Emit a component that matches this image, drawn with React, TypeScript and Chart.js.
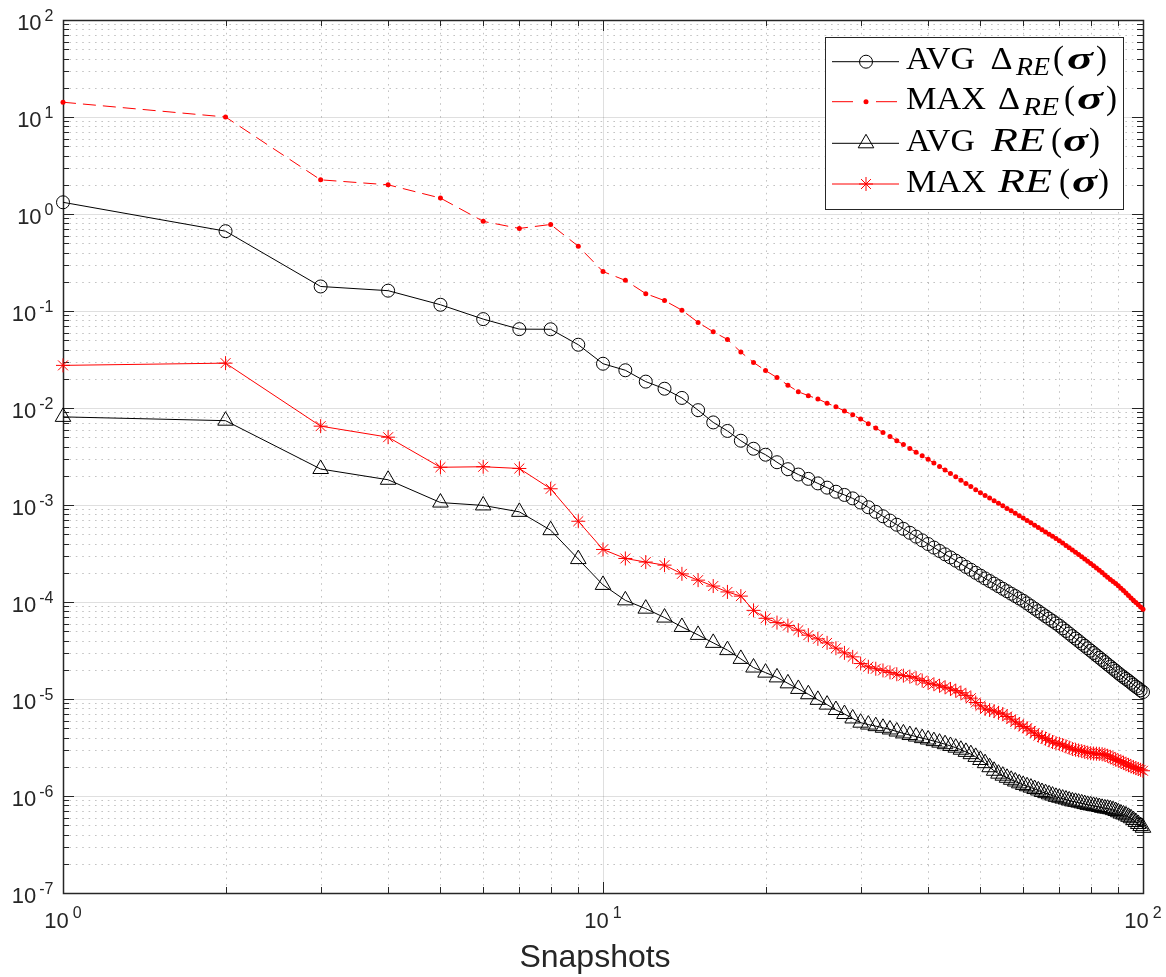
import React, { useEffect, useRef } from 'react';
import { Chart, registerables } from 'chart.js';

Chart.register(...registerables);

// ---------------- data ----------------
const snapshots = Array.from({ length: 100 }, (_, i) => i + 1);

const avgDelta = [
  1.32, 0.665, 0.179, 0.162, 0.116, 0.0825, 0.065, 0.0648, 0.0449, 0.0286,
  0.0245, 0.0187, 0.0158, 0.0127, 0.0095, 0.0071, 0.0058, 0.0046, 0.0038, 0.0033,
  0.00276, 0.00234, 0.00206, 0.00186, 0.00167, 0.00151, 0.00137, 0.00127, 0.00117, 0.00106,
  0.000948, 0.00085, 0.000765, 0.000691, 0.000626, 0.000568, 0.000517, 0.000472, 0.000432, 0.000396,
  0.000364, 0.000336, 0.00031, 0.000288, 0.000267, 0.000248, 0.00023, 0.000215, 0.0002, 0.000187,
  0.000175, 0.0001645, 0.0001546, 0.0001454, 0.0001369, 0.0001291, 0.0001218, 0.0001151, 0.0001088, 0.000103,
  0.0000967, 0.0000908, 0.0000854, 0.0000804, 0.0000758, 0.0000714, 0.0000674, 0.0000637, 0.0000602, 0.000057,
  0.0000535, 0.0000503, 0.0000473, 0.0000445, 0.000042, 0.0000396, 0.0000373, 0.0000353, 0.0000333, 0.0000315,
  0.0000298, 0.0000282, 0.0000267, 0.0000253, 0.000024, 0.0000227, 0.0000216, 0.0000205, 0.0000195, 0.0000185,
  0.0000176, 0.0000168, 0.0000161, 0.0000154, 0.0000147, 0.000014, 0.0000134, 0.0000129, 0.0000123, 0.0000118,
];

const maxDelta = [
  14.2, 10.0, 2.25, 2.0, 1.46, 0.84, 0.71, 0.78, 0.465, 0.255,
  0.207, 0.151, 0.128, 0.102, 0.0763, 0.0611, 0.0509, 0.0377, 0.0295, 0.0243,
  0.0206, 0.0172, 0.0147, 0.0134, 0.0124, 0.0112, 0.0103, 0.0093, 0.0085, 0.0077,
  0.0069, 0.00621, 0.0056, 0.00507, 0.0046, 0.0042, 0.00383, 0.0035, 0.00321, 0.00296,
  0.00271, 0.00249, 0.00229, 0.00211, 0.00195, 0.0018, 0.00167, 0.00155, 0.00144, 0.00134,
  0.001256, 0.001178, 0.001106, 0.00104, 0.00098, 0.000923, 0.000871, 0.000823, 0.000777, 0.000735,
  0.000694, 0.000655, 0.00062, 0.000587, 0.000556, 0.000527, 0.0005, 0.000475, 0.000451, 0.000429,
  0.000405, 0.000383, 0.000362, 0.000343, 0.000325, 0.000308, 0.000292, 0.000277, 0.000263, 0.00025,
  0.000236, 0.000224, 0.000212, 0.000201, 0.00019, 0.00018, 0.000171, 0.000163, 0.000155, 0.000147,
  0.000139, 0.000131, 0.000124, 0.000117, 0.00011, 0.000104, 0.0000988, 0.0000935, 0.0000886, 0.000084,
];

const avgRE = [
  0.0081, 0.0074, 0.00235, 0.00182, 0.00106, 0.00099, 0.00085, 0.00055, 0.000277, 0.00015,
  0.000104, 0.0000854, 0.0000691, 0.0000553, 0.0000458, 0.0000379, 0.0000319, 0.0000259, 0.0000211, 0.0000187,
  0.0000167, 0.0000145, 0.0000127, 0.0000112, 0.0000098, 0.00000875, 0.0000077, 0.000007, 0.0000063, 0.0000057,
  0.00000545, 0.00000525, 0.00000505, 0.00000485, 0.00000462, 0.00000442, 0.00000425, 0.0000041, 0.00000395, 0.00000382,
  0.00000368, 0.00000355, 0.00000342, 0.00000328, 0.00000315, 0.000003, 0.00000285, 0.0000027, 0.00000253, 0.00000235,
  0.00000218, 0.00000198, 0.00000182, 0.0000017, 0.00000162, 0.00000154, 0.00000147, 0.00000141, 0.00000135, 0.0000013,
  0.00000126, 0.00000122, 0.00000118, 0.00000114, 0.0000011, 0.00000107, 0.00000104, 0.00000101, 0.00000098, 0.00000096,
  0.00000094, 0.00000092, 0.0000009, 0.00000088, 0.00000087, 0.000000855, 0.00000084, 0.000000825, 0.00000081, 0.0000008,
  0.00000079, 0.00000078, 0.00000077, 0.000000755, 0.000000745, 0.00000074, 0.00000073, 0.000000715, 0.0000007, 0.00000068,
  0.00000066, 0.000000645, 0.00000063, 0.00000061, 0.00000059, 0.000000565, 0.00000054, 0.000000515, 0.00000049, 0.00000047,
];

const maxRE = [
  0.0275, 0.029, 0.0065, 0.005, 0.00245, 0.00248, 0.00238, 0.00147, 0.00068, 0.000348,
  0.000281, 0.000258, 0.00024, 0.000195, 0.000168, 0.000146, 0.000127, 0.000115, 0.000082, 0.0000679,
  0.0000613, 0.0000571, 0.0000512, 0.0000455, 0.0000417, 0.0000379, 0.0000334, 0.0000299, 0.0000272, 0.0000232,
  0.0000215, 0.0000205, 0.0000197, 0.0000188, 0.000018, 0.0000174, 0.000017, 0.0000164, 0.0000155, 0.0000146,
  0.0000142, 0.0000137, 0.0000132, 0.0000127, 0.0000122, 0.0000116, 0.0000109, 0.0000102, 0.0000092, 0.0000085,
  0.0000079, 0.0000077, 0.0000075, 0.0000072, 0.000007, 0.0000066, 0.0000062, 0.0000058, 0.0000055, 0.0000052,
  0.000005, 0.0000047, 0.00000445, 0.0000042, 0.00000405, 0.0000039, 0.00000375, 0.0000036, 0.0000035, 0.00000345,
  0.00000335, 0.00000325, 0.00000315, 0.00000305, 0.000003, 0.00000295, 0.0000029, 0.00000285, 0.0000028, 0.00000276,
  0.00000274, 0.00000273, 0.00000272, 0.0000027, 0.00000266, 0.0000026, 0.00000253, 0.00000245, 0.00000238, 0.00000232,
  0.00000226, 0.0000022, 0.00000214, 0.00000208, 0.00000202, 0.00000198, 0.00000194, 0.0000019, 0.00000186, 0.00000182,
];

// ---------------- ticks & labels ----------------
const xMajorTicks = [1, 10, 100];
const xTickExponents = ['0', '1', '2'];
const yMajorTicks = [1e-7, 1e-6, 1e-5, 1e-4, 1e-3, 1e-2, 1e-1, 1, 10, 100];
const yTickExponents = ['-7', '-6', '-5', '-4', '-3', '-2', '-1', '0', '1', '2'];
const minorMultipliers = [2, 3, 4, 5, 6, 7, 8, 9];
const xAxisTitle = 'Snapshots';

const legendStats = ['AVG', 'MAX', 'AVG', 'MAX'];
const legendIsDelta = [true, true, false, false];

// ---------------- styles ----------------
const TICK_FONT = '"Liberation Sans", Arial, sans-serif';
const SERIF = '"Liberation Serif", "Times New Roman", serif';
const AXIS_COLOR = '#262626';

// legend piece layout per row (x positions / target widths)
const LEGEND_LAYOUT = [
  { stat: [906, 69], sym: [990.5, 22], re: [1016, 34], lp: 1053, sigma: [1067, 26], rp: 1096 },
  { stat: [906, 80], sym: [998, 22], re: [1023, 36], lp: 1064, sigma: [1077, 26], rp: 1106 },
  { stat: [906, 69], re: [991, 54], lp: 1051, sigma: [1063, 25], rp: 1089 },
  { stat: [906, 80], re: [998, 54], lp: 1059, sigma: [1072, 25], rp: 1098 },
];

function minorValues(majors: number[]) {
  const out: number[] = [];
  for (let i = 0; i < majors.length - 1; i++) {
    for (const m of minorMultipliers) out.push(majors[i] * m);
  }
  return out;
}

function drawMarker(ctx: CanvasRenderingContext2D, kind: string, x: number, y: number) {
  ctx.save();
  ctx.setLineDash([]);
  ctx.lineWidth = 1;
  if (kind === 'circle') {
    ctx.strokeStyle = '#000';
    ctx.beginPath();
    ctx.arc(x, y, 6.5, 0, Math.PI * 2);
    ctx.stroke();
  } else if (kind === 'dot') {
    ctx.fillStyle = '#ff0000';
    ctx.beginPath();
    ctx.arc(x, y, 2.5, 0, Math.PI * 2);
    ctx.fill();
  } else if (kind === 'triangle') {
    const r = 9;
    ctx.strokeStyle = '#000';
    ctx.beginPath();
    ctx.moveTo(x, y - r);
    ctx.lineTo(x + r * Math.sin((2 * Math.PI) / 3), y - r * Math.cos((2 * Math.PI) / 3));
    ctx.lineTo(x + r * Math.sin((4 * Math.PI) / 3), y - r * Math.cos((4 * Math.PI) / 3));
    ctx.closePath();
    ctx.stroke();
  } else if (kind === 'star') {
    const r = 7;
    ctx.strokeStyle = '#ff0000';
    ctx.beginPath();
    for (let k = 0; k < 4; k++) {
      const a = (k * Math.PI) / 4;
      ctx.moveTo(x - r * Math.cos(a), y - r * Math.sin(a));
      ctx.lineTo(x + r * Math.cos(a), y + r * Math.sin(a));
    }
    ctx.stroke();
  }
  ctx.restore();
}

function fitText(ctx: CanvasRenderingContext2D, t: string, font: string, x: number, y: number, w?: number) {
  ctx.font = font;
  const m = ctx.measureText(t).width;
  ctx.save();
  ctx.translate(x, y);
  if (w) ctx.scale(w / m, 1);
  ctx.fillText(t, 0, 0);
  ctx.restore();
}

const axesPlugin = {
  id: 'matlabAxes',
  beforeDatasetsDraw(chart: any) {
    const { ctx, chartArea: a, scales } = chart;
    const xs = scales.x;
    const ys = scales.y;
    ctx.save();
    // minor grid (dotted)
    ctx.strokeStyle = 'rgba(38,38,38,0.28)';
    ctx.lineWidth = 1;
    ctx.setLineDash([1.6, 4.8]);
    for (const v of minorValues(xMajorTicks)) {
      const px = Math.round(xs.getPixelForValue(v)) + 0.5;
      ctx.beginPath();
      ctx.moveTo(px, a.top);
      ctx.lineTo(px, a.bottom);
      ctx.stroke();
    }
    for (const v of minorValues(yMajorTicks)) {
      const py = Math.round(ys.getPixelForValue(v)) + 0.5;
      ctx.beginPath();
      ctx.moveTo(a.left, py);
      ctx.lineTo(a.right, py);
      ctx.stroke();
    }
    // major grid (solid)
    ctx.setLineDash([]);
    ctx.strokeStyle = 'rgba(38,38,38,0.15)';
    for (const v of xMajorTicks) {
      const px = Math.round(xs.getPixelForValue(v)) + 0.5;
      ctx.beginPath();
      ctx.moveTo(px, a.top);
      ctx.lineTo(px, a.bottom);
      ctx.stroke();
    }
    for (const v of yMajorTicks) {
      const py = Math.round(ys.getPixelForValue(v)) + 0.5;
      ctx.beginPath();
      ctx.moveTo(a.left, py);
      ctx.lineTo(a.right, py);
      ctx.stroke();
    }
    // box + ticks
    ctx.strokeStyle = AXIS_COLOR;
    const majLen = 11;
    const minLen = 6;
    const tickX = (v: number, len: number) => {
      const px = Math.round(xs.getPixelForValue(v)) + 0.5;
      ctx.beginPath();
      ctx.moveTo(px, a.bottom);
      ctx.lineTo(px, a.bottom - len);
      ctx.moveTo(px, a.top);
      ctx.lineTo(px, a.top + len);
      ctx.stroke();
    };
    const tickY = (v: number, len: number) => {
      const py = Math.round(ys.getPixelForValue(v)) + 0.5;
      ctx.beginPath();
      ctx.moveTo(a.left, py);
      ctx.lineTo(a.left + len, py);
      ctx.moveTo(a.right, py);
      ctx.lineTo(a.right - len, py);
      ctx.stroke();
    };
    ctx.lineWidth = 1;
    xMajorTicks.forEach((v) => tickX(v, majLen));
    minorValues(xMajorTicks).forEach((v) => tickX(v, minLen));
    yMajorTicks.forEach((v) => tickY(v, majLen));
    minorValues(yMajorTicks).forEach((v) => tickY(v, minLen));
    ctx.lineWidth = 1.5;
    ctx.strokeRect(Math.round(a.left) + 0.5, Math.round(a.top) + 0.5, Math.round(a.right - a.left), Math.round(a.bottom - a.top));

    // tick labels
    ctx.fillStyle = AXIS_COLOR;
    ctx.textBaseline = 'alphabetic';
    const baseFont = `22px ${TICK_FONT}`;
    const expFont = `16px ${TICK_FONT}`;
    yMajorTicks.forEach((v, i) => {
      const py = ys.getPixelForValue(v);
      const exp = yTickExponents[i];
      ctx.font = expFont;
      const we = ctx.measureText(exp).width;
      ctx.textAlign = 'right';
      ctx.fillText(exp, a.left - 9.5, py + 0.5);
      ctx.font = baseFont;
      ctx.fillText('10', a.left - 9.5 - we - 3, py + 10);
    });
    xMajorTicks.forEach((v, i) => {
      const px = xs.getPixelForValue(v);
      const exp = xTickExponents[i];
      ctx.font = baseFont;
      const wb = ctx.measureText('10').width;
      ctx.font = expFont;
      const we = ctx.measureText(exp).width;
      const total = wb + 4 + we;
      const x0 = px - total / 2;
      ctx.textAlign = 'left';
      ctx.font = baseFont;
      ctx.fillText('10', x0, a.bottom + 35);
      ctx.font = expFont;
      ctx.fillText(exp, x0 + wb + 4, a.bottom + 25);
    });
    // axis title
    ctx.font = `32px ${TICK_FONT}`;
    ctx.textAlign = 'center';
    ctx.fillText(xAxisTitle, 595, a.bottom + 74);
    ctx.restore();
  },
  afterDatasetsDraw(chart: any) {
    const { ctx } = chart;
    ctx.save();
    // legend box
    const bx = 825.5, by = 37.5, bw = 298, bh = 172;
    ctx.fillStyle = '#ffffff';
    ctx.fillRect(bx, by, bw, bh);
    ctx.strokeStyle = AXIS_COLOR;
    ctx.lineWidth = 1;
    ctx.strokeRect(bx, by, bw, bh);
    const rows = [61.7, 101.7, 143.3, 184];
    const ds = chart.data.datasets;
    rows.forEach((ry, i) => {
      const d = ds[i];
      ctx.strokeStyle = d.borderColor;
      ctx.lineWidth = 1;
      ctx.setLineDash(i === 1 ? [21, 23] : []);
      ctx.beginPath();
      ctx.moveTo(832, ry);
      ctx.lineTo(899, ry);
      ctx.stroke();
      ctx.setLineDash([]);
      drawMarker(ctx, d.legendMarker, 866, ry);
      // text
      ctx.fillStyle = '#000';
      ctx.textAlign = 'left';
      ctx.textBaseline = 'alphabetic';
      const L: any = LEGEND_LAYOUT[i];
      const yb = ry + 7.5;
      fitText(ctx, legendStats[i], `32px ${SERIF}`, L.stat[0], yb, L.stat[1]);
      if (legendIsDelta[i]) {
        fitText(ctx, 'Δ', `32px ${SERIF}`, L.sym[0], yb, L.sym[1]);
        fitText(ctx, 'RE', `italic 25px ${SERIF}`, L.re[0], yb + 6, L.re[1]);
      } else {
        fitText(ctx, 'RE', `italic 33px ${SERIF}`, L.re[0], yb, L.re[1]);
      }
      fitText(ctx, '(', `33px ${SERIF}`, L.lp, yb);
      fitText(ctx, 'σ', `bold italic 32px ${SERIF}`, L.sigma[0], yb, L.sigma[1]);
      fitText(ctx, ')', `33px ${SERIF}`, L.rp, yb);
    });
    ctx.restore();
  },
};

export default function App() {
  const canvasRef = useRef<HTMLCanvasElement | null>(null);

  useEffect(() => {
    const canvas = canvasRef.current;
    if (!canvas) return;
    const toPoints = (vals: number[]) => snapshots.map((s, i) => ({ x: s, y: vals[i] }));
    const chart = new Chart(canvas, {
      type: 'line',
      data: {
        datasets: [
          {
            label: 'AVG Δ_RE(σ)',
            data: toPoints(avgDelta),
            borderColor: '#000000',
            borderWidth: 1,
            pointStyle: 'circle',
            pointRadius: 6.5,
            pointBorderWidth: 1,
            pointBorderColor: '#000000',
            pointBackgroundColor: 'rgba(0,0,0,0)',
            tension: 0,
            clip: false,
            legendMarker: 'circle',
          } as any,
          {
            label: 'MAX Δ_RE(σ)',
            data: toPoints(maxDelta),
            borderColor: '#ff0000',
            borderWidth: 1,
            borderDash: [13, 7],
            pointStyle: 'circle',
            pointRadius: 2.5,
            pointBorderWidth: 0,
            pointBackgroundColor: '#ff0000',
            tension: 0,
            clip: false,
            legendMarker: 'dot',
          } as any,
          {
            label: 'AVG RE(σ)',
            data: toPoints(avgRE),
            borderColor: '#000000',
            borderWidth: 1,
            pointStyle: 'triangle',
            pointRadius: 9,
            pointBorderWidth: 1,
            pointBorderColor: '#000000',
            pointBackgroundColor: 'rgba(0,0,0,0)',
            tension: 0,
            clip: false,
            legendMarker: 'triangle',
          } as any,
          {
            label: 'MAX RE(σ)',
            data: toPoints(maxRE),
            borderColor: '#ff0000',
            borderWidth: 1,
            pointStyle: 'star',
            pointRadius: 7,
            pointBorderWidth: 1,
            pointBorderColor: '#ff0000',
            pointBackgroundColor: 'rgba(0,0,0,0)',
            tension: 0,
            clip: false,
            legendMarker: 'star',
          } as any,
        ],
      },
      options: {
        animation: false,
        responsive: false,
        devicePixelRatio: 1,
        layout: { padding: { left: 63, right: 23, top: 20, bottom: 84 } },
        plugins: { legend: { display: false }, tooltip: { enabled: false } },
        elements: { line: { fill: false } },
        scales: {
          x: { type: 'logarithmic', min: 1, max: 100, display: false },
          y: { type: 'logarithmic', min: 1e-7, max: 100, display: false },
        },
      },
      plugins: [axesPlugin],
    });
    return () => chart.destroy();
  }, []);

  return (
    <div style={{ position: 'absolute', left: 0, top: 0, width: 1166, height: 977, background: '#fff' }}>
      <canvas ref={canvasRef} width={1166} height={977} style={{ display: 'block' }} />
    </div>
  );
}
